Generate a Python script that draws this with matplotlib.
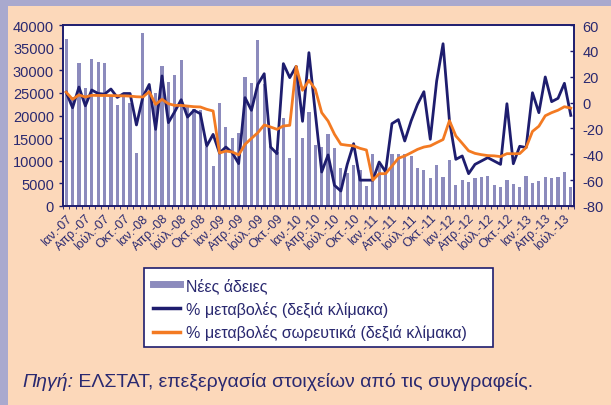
import matplotlib
matplotlib.use("Agg")
import matplotlib.pyplot as plt
from matplotlib.patches import Rectangle
from matplotlib.lines import Line2D
import numpy as np

plt.rcParams['font.family'] = ['Liberation Sans', 'DejaVu Sans']
plt.rcParams['axes.unicode_minus'] = False

months_short = ["Ιαν.", "Απρ.", "Ιούλ.", "Οκτ."]
years = ["07", "08", "09", "10", "11", "12", "13"]

new_permits = [36800, 24000, 31700, 26000, 32500, 31900, 31500, 24500, 22400, 24500,
               22700, 11800, 38200, 25000, 25000, 31000, 27400, 29000, 32200, 22000,
               21500, 21300, 13000, 8800, 22800, 17400, 15100, 16100, 28400, 27200,
               36600, 27000, 13200, 12000, 19500, 10700, 30900, 15000, 20800, 13400,
               13100, 16000, 12900, 8500, 7400, 9000, 7900, 4400, 11600, 8800,
               8000, 11400, 11400, 11400, 11100, 8300, 7900, 6100, 9000, 6300,
               10200, 4600, 5800, 5200, 6100, 6300, 6700, 4600, 4200, 5800,
               4800, 4200, 6700, 5100, 5500, 6300, 6100, 6500, 7500, 4200]

pct_change = [8, -4, 12, -2.5, 9.7, 7, 6.5, 10.5, 4, 7,
              7, -17.3, 4.3, 14, -20.7, 20.6, -15.5, -7, 2.2, -11.2,
              -6, -8.6, -33.6, -24.6, -39, -34.4, -38.8, -47.2, 3.8, -6,
              14.1, 22.3, -34.4, -39.5, 30.1, 19.3, 28, -14.5, 38.6, -8,
              -53.7, -40.5, -64, -68.4, -47.8, -31.8, -60, -60, -60, -46,
              -53.5, -16.3, -13.2, -29.7, -14.2, -1.4, 8.4, -28.4, 16.7, 45.5,
              -14, -43.9, -41.3, -55, -47.8, -45.2, -42.6, -45.2, -47.8, -0.9,
              -47.3, -33.8, -34.8, 7.6, -7.8, 19.8, 0.7, 3.3, 14.9, -9.9]

pct_cumulative = [8, 2.5, 5.9, 4.3, 5.6, 5.5, 5.5, 5.4, 5.3, 5.2,
                  5.0, 4.5, 4.3, 8.4, -1.4, 2.5, -0.9, -2.2, -2.2, -2.7,
                  -3.2, -3.4, -5.2, -6.5, -39, -37.5, -38.2, -40.5, -32.3, -27.7,
                  -23.3, -17.3, -18.9, -20.7, -18.1, -17.6, 28, 9.5, 17.2, 10.3,
                  -7.8, -14.3, -24.5, -32.3, -33, -33.5, -35.4, -36.7, -60, -55,
                  -55, -49.1, -43.1, -41.3, -38.8, -36.2, -34.4, -33.5, -31, -28.6,
                  -14, -25.8, -31.5, -37.3, -39.3, -40.3, -41, -41.2, -41.8, -39.5,
                  -39.6, -39.5, -34.8, -22.3, -18.3, -10.2, -7.8, -5.9, -3.2, -4.3]

legend_labels = ["Νέες άδειες", "% μεταβολές (δεξιά κλίμακα)",
                 "% μεταβολές σωρευτικά (δεξιά κλίμακα)"]

tick_labels = [f"{m}-{y}" for y in years for m in months_short][:27]

NAVY = '#1E1D6E'
TXT = '#2A2970'
BAR = '#8C8BBD'
ORANGE = '#F37A22'
PEACH = '#FCD8BA'
PURPLE = '#A9A9CE'

W, H = 611, 406
fig = plt.figure(figsize=(W / 100, H / 100), dpi=100)
fig.patch.set_facecolor(PEACH)
fig.add_artist(Rectangle((0, 1 - 7 / H), 1, 7 / H, transform=fig.transFigure,
                         facecolor=PURPLE, edgecolor='none', zorder=0))
fig.add_artist(Rectangle((0, 0), 8 / W, 1, transform=fig.transFigure,
                         facecolor=PURPLE, edgecolor='none', zorder=0))

L, R, T, B = 63, 574, 26, 207
ax = fig.add_axes([L / W, 1 - B / H, (R - L) / W, (B - T) / H])
ax.set_facecolor('white')
x = np.arange(len(new_permits))
ax.bar(x, new_permits, width=0.5, color=BAR, zorder=2)
ax.set_xlim(-0.5, len(new_permits) - 0.5)
ax.set_ylim(0, 40000)
ax.set_yticks(np.arange(0, 40001, 5000))
ax.set_xticks(x[::3])
ax.set_xticklabels(tick_labels, rotation=45, ha='right', rotation_mode='anchor',
                   fontsize=9, color=TXT)
ax.set_xticks(np.arange(-0.5, len(new_permits), 1), minor=True)
ax.tick_params(axis='x', which='major', length=0, pad=4)
ax.tick_params(axis='x', which='minor', length=2.5, color=NAVY, direction='out')
ax.tick_params(axis='y', labelsize=10.5, colors=NAVY, labelcolor=TXT, length=3,
               direction='out', width=1)
for s in ax.spines.values():
    s.set_color(NAVY)
    s.set_linewidth(1.2)

ax2 = ax.twinx()
ax2.plot(x, pct_change, color=NAVY, lw=2, zorder=3)
ax2.plot(x, pct_cumulative, color=ORANGE, lw=2, zorder=4)
ax2.set_ylim(-80, 60)
ax2.set_yticks(np.arange(-80, 61, 20))
ax2.tick_params(axis='y', labelsize=10.5, colors=NAVY, labelcolor=TXT, length=3,
                direction='in', width=1, pad=6)
for s in ax2.spines.values():
    s.set_color(NAVY)
    s.set_linewidth(1.2)

# legend box
bx0, by0, bx1, by1 = 144, 269, 493, 348
fig.add_artist(Rectangle((bx0 / W, 1 - by1 / H), (bx1 - bx0) / W, (by1 - by0) / H,
                         transform=fig.transFigure, facecolor='white',
                         edgecolor=NAVY, linewidth=1.2, zorder=5))
handles = [Line2D([], [], color=BAR, lw=5),
           Line2D([], [], color=NAVY, lw=2.5),
           Line2D([], [], color=ORANGE, lw=2.5)]
leg = fig.legend(handles, legend_labels, loc='upper left',
                 bbox_to_anchor=(150 / W, 1 - 275 / H), fontsize=11.5,
                 frameon=False, handlelength=1.7, handletextpad=0.35,
                 labelspacing=0.48, borderpad=0.2, borderaxespad=0,
                 labelcolor=TXT)
leg.set_zorder(6)

t1 = fig.text(22 / W, 1 - 387 / H, "Πηγή:", fontsize=14, style='italic',
              color=TXT, va='baseline')
ann = plt.annotate(" ΕΛΣΤΑΤ, επεξεργασία στοιχείων από τις συγγραφείς.",
                   xy=(1, 0), xycoords=t1, va='bottom', ha='left',
                   fontsize=14, color=TXT, annotation_clip=False)

fig.savefig("out.png", dpi=100, facecolor=PEACH)
